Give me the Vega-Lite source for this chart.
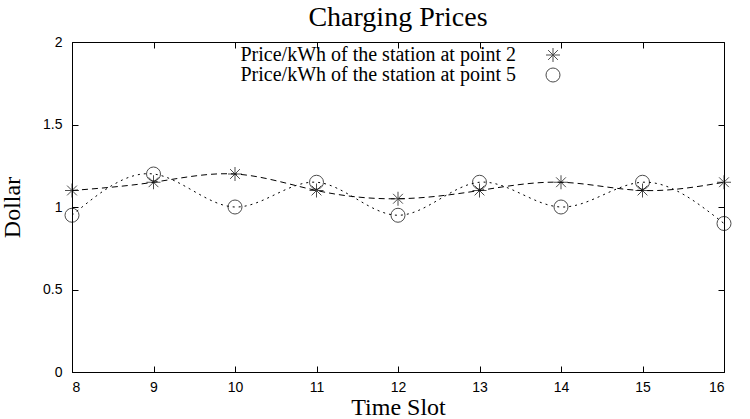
{
  "$schema": "https://vega.github.io/schema/vega-lite/v6.json",
  "width": 652,
  "height": 330,
  "autosize": {"type": "none"},
  "padding": {"left": 72, "top": 42, "right": 26, "bottom": 47},
  "background": "white",
  "title": {
    "text": "Charging Prices",
    "font": "Liberation Serif",
    "fontSize": 28,
    "fontWeight": "normal",
    "color": "black",
    "anchor": "middle",
    "offset": 3
  },
  "config": {
    "view": {"stroke": "black", "strokeWidth": 1},
    "axis": {
      "grid": false,
      "domainColor": "black",
      "tickColor": "black",
      "labelColor": "black",
      "labelFont": "Liberation Sans",
      "labelFontSize": 14,
      "titleFont": "Liberation Serif",
      "titleFontSize": 24,
      "titleFontWeight": "normal",
      "titleColor": "black",
      "tickSize": -6
    }
  },
  "data": {
    "values": [
      {"slot": 8, "station": "Price/kWh of the station at point 2", "price": 1.1},
      {"slot": 9, "station": "Price/kWh of the station at point 2", "price": 1.15},
      {"slot": 10, "station": "Price/kWh of the station at point 2", "price": 1.2},
      {"slot": 11, "station": "Price/kWh of the station at point 2", "price": 1.1},
      {"slot": 12, "station": "Price/kWh of the station at point 2", "price": 1.05},
      {"slot": 13, "station": "Price/kWh of the station at point 2", "price": 1.1},
      {"slot": 14, "station": "Price/kWh of the station at point 2", "price": 1.15},
      {"slot": 15, "station": "Price/kWh of the station at point 2", "price": 1.1},
      {"slot": 16, "station": "Price/kWh of the station at point 2", "price": 1.15},
      {"slot": 8, "station": "Price/kWh of the station at point 5", "price": 0.95},
      {"slot": 9, "station": "Price/kWh of the station at point 5", "price": 1.2},
      {"slot": 10, "station": "Price/kWh of the station at point 5", "price": 1.0},
      {"slot": 11, "station": "Price/kWh of the station at point 5", "price": 1.15},
      {"slot": 12, "station": "Price/kWh of the station at point 5", "price": 0.95},
      {"slot": 13, "station": "Price/kWh of the station at point 5", "price": 1.15},
      {"slot": 14, "station": "Price/kWh of the station at point 5", "price": 1.0},
      {"slot": 15, "station": "Price/kWh of the station at point 5", "price": 1.15},
      {"slot": 16, "station": "Price/kWh of the station at point 5", "price": 0.9}
    ]
  },
  "resolve": {"axis": {"x": "independent", "y": "independent"}},
  "layer": [
    {
      "transform": [{"filter": "datum.station === 'Price/kWh of the station at point 2'"}],
      "mark": {"type": "line", "interpolate": "natural", "color": "black", "strokeWidth": 1, "strokeDash": [6, 4]},
      "encoding": {
        "x": {
          "field": "slot", "type": "quantitative",
          "scale": {"domain": [8, 16], "nice": false, "zero": false},
          "axis": {"orient": "bottom", "values": [8, 9, 10, 11, 12, 13, 14, 15, 16], "title": "Time Slot", "labelPadding": 14, "titlePadding": 1}
        },
        "y": {
          "field": "price", "type": "quantitative",
          "scale": {"domain": [0, 2], "nice": false},
          "axis": {"orient": "left", "values": [0, 0.5, 1, 1.5, 2], "format": "~g", "title": "Dollar", "labelPadding": 16, "titlePadding": 18}
        }
      }
    },
    {
      "transform": [{"filter": "datum.station === 'Price/kWh of the station at point 5'"}],
      "mark": {"type": "line", "interpolate": "natural", "color": "black", "strokeWidth": 1, "strokeDash": [2, 4]},
      "encoding": {
        "x": {"field": "slot", "type": "quantitative", "axis": null},
        "y": {"field": "price", "type": "quantitative", "axis": null}
      }
    },
    {
      "mark": {"type": "point", "filled": false, "color": "black", "strokeWidth": 1, "size": 196},
      "encoding": {
        "x": {
          "field": "slot", "type": "quantitative",
          "axis": {"orient": "top", "values": [8, 9, 10, 11, 12, 13, 14, 15, 16], "labels": false, "title": null, "domain": false}
        },
        "y": {
          "field": "price", "type": "quantitative",
          "axis": {"orient": "right", "values": [0, 0.5, 1, 1.5, 2], "labels": false, "title": null, "domain": false}
        },
        "shape": {
          "field": "station", "type": "nominal",
          "scale": {"range": ["M-1,0L1,0M0,-1L0,1M-0.7,-0.7L0.7,0.7M-0.7,0.7L0.7,-0.7", "circle"]},
          "legend": {
            "orient": "none",
            "legendX": 471,
            "legendY": 3,
            "title": null,
            "padding": 0,
            "labelAlign": "right",
            "labelOffset": -47,
            "labelFont": "Liberation Serif",
            "labelFontSize": 20,
            "labelColor": "black",
            "labelLimit": 0,
            "symbolSize": 196,
            "symbolType": "circle",
            "symbolStrokeColor": "black",
            "symbolStrokeWidth": 1,
            "rowPadding": 0
          }
        }
      }
    }
  ]
}
